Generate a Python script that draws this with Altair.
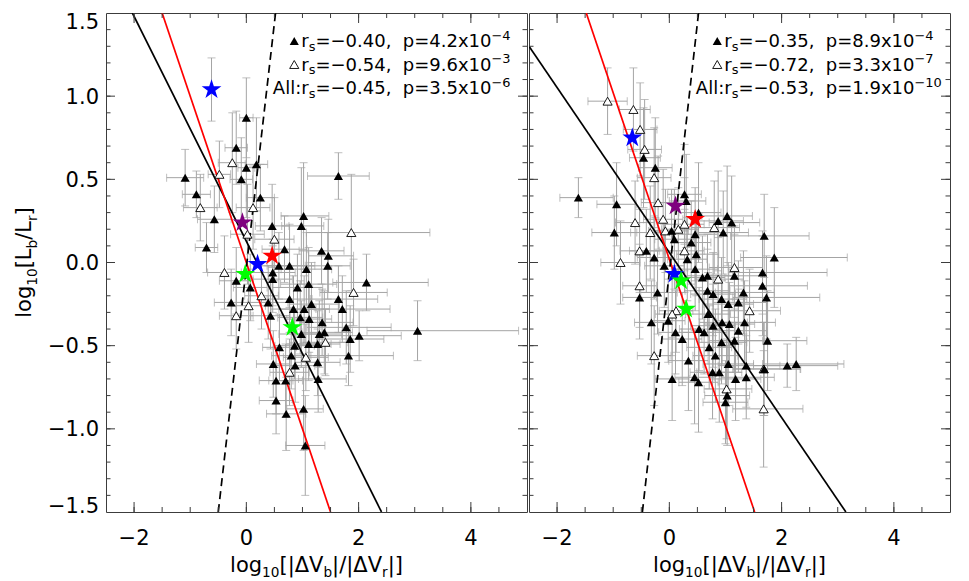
import altair as alt
import pandas as pd

# ---------------- axes / layout ----------------
X_DOMAIN = [-2.5, 5.0]
Y_DOMAIN = [-1.5, 1.5]
W, H = 421, 499

X_TICKS = [-2, 0, 2, 4]
X_LABELS = ["−2", "0", "2", "4"]
Y_TICKS = [-1.5, -1.0, -0.5, 0.0, 0.5, 1.0, 1.5]
Y_LABELS = ["−1.5", "−1.0", "−0.5", "0.0", "0.5", "1.0", "1.5"]
X_MINOR = [v / 2 for v in range(-4, 10)]
Y_MINOR = [round(v / 10, 1) for v in range(-14, 15)]
Y_MAJOR_INNER = [-1.0, -0.5, 0.0, 0.5, 1.0]

# ---------------- data: (x, y, x_err_low, x_err_high, y_err) ----------------
LEFT_FILLED = [
    (0.00, 0.87, 0.12, 0.12, 0.24), (-0.18, 0.69, 0.20, 0.20, 0.22), (0.00, 0.57, 0.15, 0.15, 0.30),
    (0.18, 0.59, 0.20, 0.20, 0.28), (-0.09, 0.50, 0.20, 0.20, 0.25), (-1.09, 0.51, 0.33, 0.33, 0.17),
    (-0.89, 0.41, 0.25, 0.25, 0.14), (0.25, 0.39, 0.25, 0.25, 0.20), (-0.57, 0.26, 0.30, 0.30, 0.20),
    (-0.71, 0.09, 0.20, 0.20, 0.15), (1.02, 0.28, 0.40, 0.45, 0.32), (0.98, 0.22, 0.35, 0.40, 0.35),
    (0.46, 0.22, 0.30, 0.30, 0.25), (0.68, 0.08, 0.40, 0.40, 0.20), (1.34, 0.07, 0.40, 0.40, 0.20),
    (1.46, 0.04, 0.35, 0.45, 0.22), (0.58, -0.02, 0.45, 0.50, 0.20), (0.77, -0.02, 0.40, 0.45, 0.25),
    (1.45, -0.02, 0.40, 0.40, 0.20), (1.07, -0.04, 0.45, 0.45, 0.22), (0.47, -0.06, 0.40, 0.40, 0.20),
    (0.47, -0.10, 0.35, 0.35, 0.20), (-0.18, -0.11, 0.30, 0.30, 0.20), (0.91, -0.15, 0.45, 0.45, 0.20),
    (1.11, -0.13, 0.50, 0.50, 0.22), (2.14, -0.12, 0.60, 1.10, 0.17), (1.64, 0.52, 0.55, 0.55, 0.14),
    (0.07, -0.15, 0.30, 0.30, 0.20), (0.77, -0.22, 0.40, 0.40, 0.20), (1.64, -0.22, 0.50, 0.70, 0.20),
    (-0.27, -0.24, 0.30, 0.30, 0.20), (0.39, -0.24, 0.35, 0.35, 0.22), (0.84, -0.28, 0.40, 0.40, 0.20),
    (1.03, -0.28, 0.45, 0.45, 0.20), (1.16, -0.25, 0.40, 0.50, 0.25), (1.71, -0.28, 0.60, 0.85, 0.20),
    (0.43, -0.32, 0.35, 0.35, 0.20), (0.96, -0.33, 0.40, 0.40, 0.22), (1.12, -0.34, 0.40, 0.40, 0.20),
    (1.35, -0.36, 0.40, 0.55, 0.20), (1.78, -0.39, 0.70, 0.80, 0.22), (3.05, -0.41, 0.90, 1.80, 0.18),
    (1.30, -0.43, 0.40, 0.40, 0.20), (1.39, -0.42, 0.40, 0.50, 0.25), (0.98, -0.43, 0.40, 0.40, 0.20),
    (2.01, -0.44, 0.70, 0.75, 0.15), (1.85, -0.46, 0.60, 0.60, 0.20), (0.59, -0.51, 0.30, 0.30, 0.20),
    (0.86, -0.50, 0.35, 0.35, 0.20), (1.11, -0.49, 0.40, 0.40, 0.22), (1.27, -0.49, 0.40, 0.40, 0.20),
    (1.82, -0.56, 0.70, 0.80, 0.18), (0.80, -0.56, 0.35, 0.35, 0.20), (0.48, -0.61, 0.30, 0.30, 0.20),
    (0.87, -0.62, 0.35, 0.35, 0.22), (1.27, -0.60, 0.40, 0.40, 0.20), (0.53, -0.71, 0.30, 0.30, 0.20),
    (0.70, -0.71, 0.30, 0.30, 0.22), (1.28, -0.70, 0.35, 0.50, 0.20), (0.53, -0.83, 0.30, 0.30, 0.20),
    (0.71, -0.91, 0.35, 0.35, 0.22), (1.02, -0.88, 0.30, 0.35, 0.25), (1.05, -1.10, 0.35, 0.35, 0.30),
]
LEFT_OPEN = [
    (-0.25, 0.60, 0.25, 0.25, 0.30), (-0.48, 0.53, 0.20, 0.20, 0.20), (-0.82, 0.33, 0.30, 0.30, 0.20),
    (0.12, 0.33, 0.30, 0.30, 0.25), (0.50, 0.14, 0.35, 0.35, 0.25), (0.02, 0.17, 0.30, 0.30, 0.30),
    (-0.39, -0.06, 0.30, 0.30, 0.22), (0.27, -0.20, 0.30, 0.30, 0.20), (-0.18, -0.32, 0.30, 0.30, 0.20),
    (0.04, -0.26, 0.30, 0.30, 0.22), (0.77, -0.66, 0.35, 0.35, 0.20), (1.87, 0.18, 0.80, 1.40, 0.35),
    (1.91, -0.18, 0.60, 0.60, 0.20), (1.41, -0.48, 0.40, 0.40, 0.20), (1.06, -0.57, 0.40, 0.40, 0.20),
]
RIGHT_FILLED = [
    (-1.62, 0.39, 0.33, 0.62, 0.12), (-0.46, 0.63, 0.25, 0.30, 0.30), (-0.25, 0.57, 0.30, 0.30, 0.30),
    (-0.94, 0.35, 0.35, 0.35, 0.25), (-0.98, 0.18, 0.40, 0.40, 0.22), (0.27, 0.41, 0.30, 0.30, 0.30),
    (0.30, 0.37, 0.30, 0.35, 0.28), (-0.27, 0.03, 0.30, 0.30, 0.25), (0.09, 0.14, 0.35, 0.35, 0.30),
    (0.39, 0.12, 0.35, 0.35, 0.25), (0.46, 0.17, 0.40, 0.40, 0.28), (0.52, 0.30, 0.35, 0.40, 0.30),
    (0.87, 0.25, 0.40, 0.45, 0.30), (1.03, 0.28, 0.45, 0.45, 0.30), (1.11, 0.24, 0.40, 0.50, 0.28),
    (0.96, 0.18, 0.45, 0.45, 0.25), (1.69, 0.16, 0.60, 0.80, 0.25), (1.87, 0.03, 0.60, 1.30, 0.30),
    (-0.09, -0.02, 0.35, 0.35, 0.25), (0.32, 0.02, 0.35, 0.35, 0.25), (0.46, -0.04, 0.40, 0.40, 0.25),
    (0.59, -0.09, 0.40, 0.40, 0.25), (0.68, -0.08, 0.40, 0.45, 0.25), (1.16, -0.08, 0.45, 0.50, 0.25),
    (1.66, -0.06, 0.60, 1.15, 0.25), (1.66, -0.14, 0.60, 0.80, 0.30), (1.73, -0.21, 0.60, 0.95, 0.25),
    (-0.53, -0.21, 0.30, 0.30, 0.25), (-0.21, -0.18, 0.30, 0.35, 0.25), (0.68, -0.17, 0.40, 0.40, 0.25),
    (0.78, -0.19, 0.40, 0.40, 0.25), (0.93, -0.22, 0.40, 0.45, 0.25), (1.05, -0.25, 0.45, 0.45, 0.25),
    (1.32, -0.18, 0.50, 0.55, 0.25), (1.23, -0.24, 0.45, 0.50, 0.25), (-0.41, 0.07, 0.30, 0.30, 0.25),
    (0.48, 0.05, 0.35, 0.40, 0.25), (0.04, 0.19, 0.30, 0.30, 0.25), (-0.32, -0.36, 0.30, 0.30, 0.25),
    (-0.02, -0.35, 0.30, 0.30, 0.25), (0.11, -0.42, 0.30, 0.35, 0.25), (0.23, -0.46, 0.35, 0.35, 0.28),
    (0.05, -0.70, 0.30, 0.30, 0.25), (0.34, -0.59, 0.35, 0.35, 0.30), (0.45, -0.69, 0.35, 0.35, 0.28),
    (0.52, -0.72, 0.35, 0.35, 0.30), (0.53, -0.40, 0.35, 0.40, 0.25), (0.62, -0.42, 0.40, 0.40, 0.25),
    (0.71, -0.51, 0.40, 0.40, 0.25), (0.82, -0.56, 0.40, 0.40, 0.28), (0.77, -0.66, 0.40, 0.40, 0.28),
    (0.93, -0.48, 0.40, 0.45, 0.25), (0.89, -0.66, 0.40, 0.40, 0.30), (1.05, -0.61, 0.45, 0.45, 0.25),
    (1.16, -0.47, 0.45, 0.50, 0.25), (1.03, -0.80, 0.40, 0.40, 0.30), (1.00, -0.84, 0.40, 0.40, 0.25),
    (1.18, -0.70, 0.45, 0.45, 0.25), (1.37, -0.69, 0.45, 0.50, 0.25), (1.37, -0.62, 0.50, 0.60, 0.25),
    (1.75, -0.47, 0.60, 0.70, 0.30), (1.69, -0.64, 0.55, 0.65, 0.28), (2.10, -0.62, 0.60, 0.90, 0.13),
    (2.26, -0.61, 0.60, 0.85, 0.16), (0.69, -0.31, 0.40, 0.40, 0.25), (0.78, -0.38, 0.40, 0.40, 0.25),
    (0.94, -0.36, 0.40, 0.45, 0.25), (1.07, -0.37, 0.45, 0.45, 0.25), (1.23, -0.41, 0.45, 0.50, 0.25),
    (1.34, -0.36, 0.50, 0.55, 0.25),
]
RIGHT_OPEN = [
    (-1.10, 0.97, 0.35, 0.35, 0.20), (-0.64, 0.92, 0.25, 0.30, 0.25), (-0.52, 0.80, 0.30, 0.30, 0.28),
    (-0.44, 0.68, 0.30, 0.30, 0.30), (-0.27, 0.51, 0.30, 0.30, 0.30), (-0.20, 0.36, 0.30, 0.30, 0.28),
    (-0.61, 0.24, 0.35, 0.35, 0.25), (-0.11, 0.26, 0.35, 0.35, 0.30), (-0.34, 0.18, 0.35, 0.35, 0.28),
    (-0.07, 0.19, 0.30, 0.30, 0.25), (0.16, 0.20, 0.30, 0.35, 0.25), (0.27, 0.23, 0.35, 0.35, 0.28),
    (0.80, 0.21, 0.40, 0.45, 0.28), (-0.53, 0.07, 0.35, 0.35, 0.25), (-0.87, 0.00, 0.35, 0.35, 0.25),
    (0.27, 0.07, 0.35, 0.35, 0.25), (1.16, -0.03, 0.45, 0.50, 0.25), (0.87, -0.10, 0.40, 0.45, 0.25),
    (-0.53, -0.14, 0.30, 0.30, 0.25), (-0.27, -0.56, 0.30, 0.30, 0.30), (0.12, -0.29, 0.30, 0.30, 0.25),
    (0.05, -0.31, 0.30, 0.30, 0.25), (1.02, -0.76, 0.40, 0.45, 0.30), (1.68, -0.64, 0.55, 0.65, 0.28),
    (1.68, -0.88, 0.55, 0.70, 0.35), (1.43, -0.29, 0.50, 0.55, 0.25),
]
# stars: (x, y, colour, y_err)
LEFT_STARS = [
    (-0.62, 1.04, "#0000ff", 0.19), (-0.07, 0.24, "#7f007f", 0.0), (0.46, 0.04, "#ff0000", 0.0),
    (0.20, -0.01, "#0000ff", 0.0), (-0.02, -0.07, "#00ff00", 0.0), (0.82, -0.39, "#00ff00", 0.0),
]
RIGHT_STARS = [
    (-0.66, 0.75, "#0000ff", 0.0), (0.11, 0.34, "#7f007f", 0.0), (0.46, 0.26, "#ff0000", 0.0),
    (0.09, -0.07, "#0000ff", 0.0), (0.21, -0.11, "#00ff00", 0.0), (0.30, -0.28, "#00ff00", 0.0),
]
# fit lines: (colour, intercept, slope, dashed)
LEFT_FITS = [("#000000", 0.128, -0.676, False), ("#ff0000", 0.0, -1.0, False), ("#000000", -0.03, 2.94, True)]
RIGHT_FITS = [("#000000", 0.06, -0.496, False), ("#ff0000", 0.02, -1.0, False), ("#000000", -0.06, 3.0, True)]
# statistics text: (marker, r_s, p mantissa, p exponent)
LEFT_STATS = [("filled", "−0.40", "4.2", "−4"), ("open", "−0.54", "9.6", "−3"), ("All:", "−0.45", "3.5", "−6")]
RIGHT_STATS = [("filled", "−0.35", "8.9", "−4"), ("open", "−0.72", "3.3", "−7"), ("All:", "−0.53", "1.9", "−10")]

# ---------------- style ----------------
FONT = "DejaVu Sans"
FRAME = "#3c3c3c"
ERR = "#a4a4a4"
TRI_SIZE = 84
STAR_SIZE = 430
STAR = ("M0,-1L0.225,-0.309L0.951,-0.309L0.363,0.118L0.588,0.809L0,0.382"
        "L-0.588,0.809L-0.363,0.118L-0.951,-0.309L-0.225,-0.309Z")
NB = "\u00a0"

XS = alt.Scale(domain=X_DOMAIN, nice=False, zero=False)
YS = alt.Scale(domain=Y_DOMAIN, nice=False, zero=False)


def X(f):
    return alt.X(f"{f}:Q", scale=XS, axis=None)


def Y(f):
    return alt.Y(f"{f}:Q", scale=YS, axis=None)


def px2x(px):
    return X_DOMAIN[0] + px * (X_DOMAIN[1] - X_DOMAIN[0]) / W


def px2y(py):
    return Y_DOMAIN[1] - py * (Y_DOMAIN[1] - Y_DOMAIN[0]) / H


# DejaVu Sans advance widths (em)
CW = {" ": 0.318, NB: 0.318, ",": 0.318, ".": 0.318, "/": 0.337, ":": 0.337, "=": 0.838, "−": 0.838,
      "A": 0.684, "L": 0.557, "V": 0.684, "[": 0.390, "]": 0.390, "|": 0.337, "b": 0.635,
      "g": 0.635, "l": 0.278, "o": 0.612, "p": 0.635, "r": 0.411, "s": 0.521, "x": 0.592,
      "Δ": 0.684}


def tw(s, fs):
    return fs * sum(CW.get(c, 0.636 if c.isdigit() else 0.6) for c in s)


def err_frames(pts):
    df = pd.DataFrame(pts, columns=["x", "y", "exl", "exh", "ey"])
    df["xlo"] = df.x - df.exl
    df["xhi"] = df.x + df.exh
    df["ylo"] = df.y - df.ey
    df["yhi"] = df.y + df.ey
    hc = pd.concat([df[["xlo", "y"]].rename(columns={"xlo": "cx", "y": "cy"}),
                    df[["xhi", "y"]].rename(columns={"xhi": "cx", "y": "cy"})])
    vc = pd.concat([df[["x", "ylo"]].rename(columns={"x": "cx", "ylo": "cy"}),
                    df[["x", "yhi"]].rename(columns={"x": "cx", "yhi": "cy"})])
    return df, hc, vc


def err_layers(pts):
    df, hc, vc = err_frames(pts)
    return [
        alt.Chart(df).mark_rule(color=ERR, strokeWidth=1, clip=True).encode(x=X("xlo"), x2="xhi", y=Y("y")),
        alt.Chart(df).mark_rule(color=ERR, strokeWidth=1, clip=True).encode(x=X("x"), y=Y("ylo"), y2="yhi"),
        alt.Chart(hc).mark_tick(orient="vertical", size=8, thickness=1, color=ERR, clip=True).encode(x=X("cx"), y=Y("cy")),
        alt.Chart(vc).mark_tick(orient="horizontal", size=8, thickness=1, color=ERR, clip=True).encode(x=X("cx"), y=Y("cy")),
    ]


def fit_layer(color, a, b, dashed):
    xa, xb = (Y_DOMAIN[0] - a) / b, (Y_DOMAIN[1] - a) / b
    lo, hi = max(X_DOMAIN[0], min(xa, xb)), min(X_DOMAIN[1], max(xa, xb))
    df = pd.DataFrame({"x": [lo, hi], "y": [a + b * lo, a + b * hi]})
    kw = dict(color=color, strokeWidth=1.7, clip=True)
    if dashed:
        kw["strokeDash"] = [8, 5]
    return alt.Chart(df).mark_line(**kw).encode(x=X("x"), y=Y("y"))


def tri_layer(df, filled):
    if filled:
        m = alt.Chart(df).mark_point(shape="triangle-up", size=TRI_SIZE, filled=True, color="black", opacity=1)
    else:
        m = alt.Chart(df).mark_point(shape="triangle-up", size=TRI_SIZE, filled=True, fill="white",
                                     stroke="black", strokeWidth=0.9, opacity=1)
    return m.encode(x=X("x"), y=Y("y"))


def tick_layers():
    out = []
    for vals, ln in [(X_MINOR, 5), (X_TICKS, 10)]:
        d = pd.DataFrame({"v": vals})
        out.append(alt.Chart(d).mark_rule(color=FRAME, strokeWidth=1).encode(
            x=X("v"), y=alt.value(H), y2=alt.value(H - ln)))
        out.append(alt.Chart(d).mark_rule(color=FRAME, strokeWidth=1).encode(
            x=X("v"), y=alt.value(0), y2=alt.value(ln)))
    for vals, ln in [(Y_MINOR, 4.5), (Y_MAJOR_INNER, 9)]:
        d = pd.DataFrame({"v": vals})
        out.append(alt.Chart(d).mark_rule(color=FRAME, strokeWidth=1).encode(
            y=Y("v"), x=alt.value(0), x2=alt.value(ln)))
        out.append(alt.Chart(d).mark_rule(color=FRAME, strokeWidth=1).encode(
            y=Y("v"), x=alt.value(W), x2=alt.value(W - ln)))
    return out


def text_layer(rows, size, align="left", angle=0):
    df = pd.DataFrame(rows, columns=["x", "y", "t"])
    return alt.Chart(df).mark_text(font=FONT, fontSize=size, align=align, baseline="alphabetic",
                                   angle=angle, color="black").encode(x=X("x"), y=Y("y"), text="t:N")


def rich(segs, start, base, F, small, sub_dy, sup_dy, vertical=False):
    """Lay out segments [(text, kind)] along a line; returns main rows, small rows, end position."""
    main, sm = [], []
    pos = start
    for t, k in segs:
        fs = F if k == "n" else F * small
        off = 0 if k == "n" else (sub_dy if k == "sub" else sup_dy)
        if vertical:
            row = (px2x(base + off), px2y(pos), t)
            pos -= tw(t, fs)
        else:
            row = (px2x(pos), px2y(base + off), t)
            pos += tw(t, fs)
        (main if k == "n" else sm).append(row)
    return main, sm, pos


def stats_layers(stats):
    F, SM = 18, 0.72
    main, sm, marks = [], [], []
    for i, (lead, r, p, e) in enumerate(stats):
        base = 34 + 23.5 * i
        segs = [("All:", "n")] if lead == "All:" else []
        segs += [("r", "n"), ("s", "sub"), (f"={r},{NB}{NB}p={p}x10", "n")]
        width = sum(tw(t, F if k == "n" else F * SM) for t, k in segs)
        start = (W - 35.5) - width
        if lead != "All:":
            marks.append((px2x(start - 7), px2y(base - 6), lead))
        m, s, end = rich(segs, start, base, F, SM, 0.2 * F, -0.4 * F)
        main += m
        sm += s
        m2, s2, _ = rich([(e, "sup")], end, base, F, SM, 0.2 * F, -0.4 * F)
        sm += s2
    mk = pd.DataFrame(marks, columns=["x", "y", "kind"])
    return [text_layer(main, F), text_layer(sm, F * SM),
            tri_layer(mk[mk.kind == "filled"], True), tri_layer(mk[mk.kind == "open"], False)]


def title_layers(with_y):
    F, SM = 21, 0.65
    xsegs = [("log", "n"), ("10", "sub"), ("[|ΔV", "n"), ("b", "sub"), ("|/|ΔV", "n"), ("r", "sub"), ("|]", "n")]
    total = sum(tw(t, F if k == "n" else F * SM) for t, k in xsegs)
    m, s, _ = rich(xsegs, W / 2 - total / 2, H + 59.5, F, SM, 0.27 * F, 0)
    out = [text_layer(m, F), text_layer(s, F * SM)]
    out.append(text_layer([(v, px2y(H + 33), t) for v, t in zip(X_TICKS, X_LABELS)], F, align="center"))
    if with_y:
        ysegs = [("log", "n"), ("10", "sub"), ("[L", "n"), ("b", "sub"), ("/L", "n"), ("r", "sub"), ("]", "n")]
        total = sum(tw(t, F if k == "n" else F * SM) for t, k in ysegs)
        m, s, _ = rich(ysegs, H / 2 + total / 2, -74.8, F, SM, 0.27 * F, 0, vertical=True)
        out += [text_layer(m, F, angle=270), text_layer(s, F * SM, angle=270)]
        rows = []
        for v, t in zip(Y_TICKS, Y_LABELS):
            py = (Y_DOMAIN[1] - v) / (Y_DOMAIN[1] - Y_DOMAIN[0]) * H
            if v == Y_DOMAIN[1]:
                yb = py + 15.5
            elif v == Y_DOMAIN[0]:
                yb = py + 1
            else:
                yb = py + 7.6
            rows.append((px2x(-7), px2y(yb), t))
        out.append(text_layer(rows, F, align="right"))
    return out


def star_layers(stars):
    df = pd.DataFrame(stars, columns=["x", "y", "c", "ey"])
    e = df[df.ey > 0].copy()
    e["ylo"] = e.y - e.ey
    e["yhi"] = e.y + e.ey
    caps = pd.concat([e[["x", "ylo"]].rename(columns={"ylo": "cy"}), e[["x", "yhi"]].rename(columns={"yhi": "cy"})])
    return [
        alt.Chart(e).mark_rule(color=ERR, strokeWidth=1).encode(x=X("x"), y=Y("ylo"), y2="yhi"),
        alt.Chart(caps).mark_tick(orient="horizontal", size=8, thickness=1, color=ERR).encode(x=X("x"), y=Y("cy")),
        alt.Chart(df).mark_point(shape=STAR, size=STAR_SIZE, filled=True, opacity=1, strokeWidth=0).encode(
            x=X("x"), y=Y("y"), color=alt.Color("c:N", scale=None)),
    ]


def panel(filled, opened, stars, fits, stats, with_y):
    fdf = pd.DataFrame(filled, columns=["x", "y", "exl", "exh", "ey"])
    odf = pd.DataFrame(opened, columns=["x", "y", "exl", "exh", "ey"])
    layers = err_layers(filled) + err_layers(opened)
    layers += [fit_layer(*f) for f in fits]
    layers += [tri_layer(odf, False), tri_layer(fdf, True)]
    layers += star_layers(stars)
    layers += tick_layers()
    layers += title_layers(with_y)
    layers += stats_layers(stats)
    return alt.layer(*layers).properties(width=W, height=H)


left = panel(LEFT_FILLED, LEFT_OPEN, LEFT_STARS, LEFT_FITS, LEFT_STATS, True)
right = panel(RIGHT_FILLED, RIGHT_OPEN, RIGHT_STARS, RIGHT_FITS, RIGHT_STATS, False)

chart = (
    alt.hconcat(left, right, spacing=0)
    .properties(padding={"left": 5, "top": 2, "right": 5, "bottom": 0})
    .configure_view(stroke=FRAME, strokeWidth=1)
)

chart.save("out.html", embed_options={"renderer": "svg", "actions": False})
